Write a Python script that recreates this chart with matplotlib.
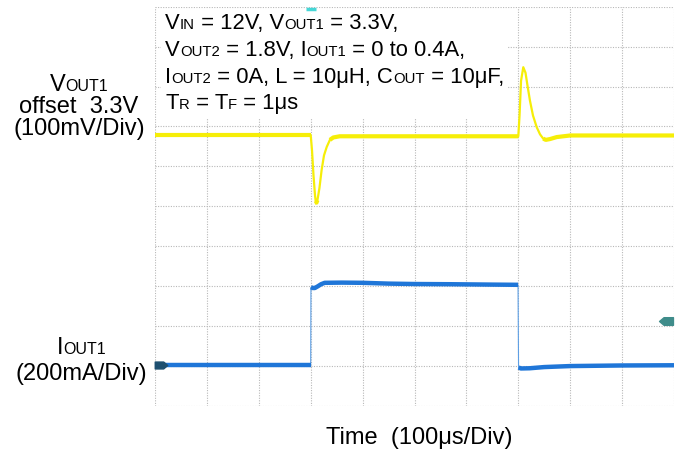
"""
Load transient of VOUT1 (yellow) and IOUT1 (blue) redrawn like the scope capture.
"""
import numpy as np
from matplotlib import pyplot as plt
from matplotlib.path import Path
from matplotlib.offsetbox import TextArea, HPacker, VPacker, AnchoredOffsetbox

plt.rcParams['font.family'] = ['Liberation Sans', 'DejaVu Sans']

# VOUT1, AC part in mV, time in us (100 us/div)
t_vout = [0, 300, 302.5, 305.4, 308.3, 310.2, 313, 316.8, 321, 325.6, 330.8, 337,
          343.5, 356, 450, 550, 650, 700, 702.4, 705.3, 709.6, 713.9, 717.7, 722.5,
          728.3, 735.4, 741.8, 748, 753, 761, 774, 800, 900, 1000]
vout1 = [1, 1, -37, -100, -150, -171, -162, -132, -87, -50, -29, -11,
         -5, -2, -2, -2, -2, -2, 50, 137, 171, 157, 125, 87,
         50, 21, 3, -8, -11, -9, -4, 0, 0, 0]

# IOUT1 in mA
t_iout = [0, 150, 300, 300.5, 304, 308, 314, 320, 327, 360, 400, 450, 500, 568,
          650, 699.5, 700.5, 705, 722, 750, 800, 900, 1000]
iout1 = [0, 0, 0, 390, 386, 386, 395, 405, 412, 413, 412, 408, 406, 405,
         403, 402, -12, -17, -16, -10, -5, -2, -1]

trig_t, trig_i = 985, 220   # trigger level marker on IOUT1
trig_pos_t = 300            # trigger position marker on top edge

V_DIV, I_DIV = 100, 200      # mV/div, mA/div
V_POS, I_POS = 6.775, 1.025  # trace zero, divisions above bottom
N_DIV = 10

YELLOW = '#f6ee08'
BLUE = '#1f76d8'


def steady_pieces(t, y, jump):
    # split trace where it moves fast so the flat parts can be drawn thicker
    t, y = np.asarray(t, float), np.asarray(y, float)
    cut = np.where(np.abs(np.diff(y)) > jump)[0] + 1
    return zip(np.split(t, cut), np.split(y, cut))


def sub_line(parts, big, small):
    boxes = [TextArea(s, textprops=dict(fontsize=small if sub else big, color='black'))
             for s, sub in parts]
    return HPacker(children=boxes, align='baseline', pad=0, sep=0)


def main():
    fig = plt.figure(figsize=(6.81, 4.51), dpi=100)
    ax = fig.add_axes([155 / 681, 1 - 406 / 451, 519 / 681, 399.3 / 451])
    ax2 = ax.twinx()

    ax.set_xlim(0, 1000)
    ax.set_ylim(-V_POS * V_DIV, (N_DIV - V_POS) * V_DIV)
    ax2.set_ylim(-I_POS * I_DIV, (N_DIV - I_POS) * I_DIV)

    ax.set_xticks(np.arange(0, 1001, 100))
    ax.set_yticks((np.arange(N_DIV + 1) - V_POS) * V_DIV)
    ax.grid(True, color='#b8b8b8', linestyle=(0, (1, 1.3)), linewidth=0.8)
    for a in (ax, ax2):
        a.tick_params(length=0, labelbottom=False, labelleft=False, labelright=False)
        for s in a.spines.values():
            s.set_visible(False)
    ax2.patch.set_visible(False)
    ax2.set_yticks([])

    # traces
    ax.plot(t_vout, vout1, color=YELLOW, lw=1.6, solid_capstyle='butt')
    for tt, yy in steady_pieces(t_vout, vout1, 10):
        if len(tt) > 1:
            ax.plot(tt, yy, color=YELLOW, lw=3.0, solid_capstyle='butt')

    ax2.plot(t_iout, iout1, color='#5e9fe4', lw=0.8)
    for tt, yy in steady_pieces(t_iout, iout1, 100):
        if len(tt) > 1:
            ax2.plot(tt, yy, color=BLUE, lw=3.2, solid_capstyle='butt')

    # channel / trigger markers
    tag = Path([(-1, -0.55), (0.35, -0.55), (1, 0), (0.35, 0.55), (-1, 0.55), (-1, -0.55)],
               [1, 2, 2, 2, 2, 79])
    tag_l = Path(-tag.vertices, tag.codes)
    ax2.plot([12], [0], marker=tag, ms=9, color='#1d4f70', clip_on=False, zorder=6)
    ax2.plot([trig_t], [trig_i], marker=tag_l, ms=10, color='#3f8c8a', clip_on=False)
    ax.plot([trig_pos_t], [0.993], transform=ax.get_xaxis_transform(), marker='_', ms=7,
            mew=2.5, color='#45d6d6', clip_on=False, zorder=10)

    # conditions box
    big, small = 15.8, 10.7
    lines = [
        [("V", 0), ("IN", 1), (" = 12V, V", 0), ("OUT1", 1), (" = 3.3V,", 0)],
        [("V", 0), ("OUT2", 1), (" = 1.8V, I", 0), ("OUT1", 1), (" = 0 to 0.4A,", 0)],
        [("I", 0), ("OUT2", 1), (" = 0A, L = 10μH, C", 0), ("OUT", 1), (" = 10μF,", 0)],
        [("T", 0), ("R", 1), (" = T", 0), ("F", 1), (" = 1μs", 0)],
    ]
    pack = VPacker(children=[sub_line(l, big, small) for l in lines],
                   align='left', pad=0, sep=4.2)
    box = AnchoredOffsetbox(loc='upper left', child=pack, pad=0.3, borderpad=0,
                            frameon=True, bbox_to_anchor=(0.012, 0.995),
                            bbox_transform=ax.transAxes)
    box.patch.set_facecolor('white')
    box.patch.set_edgecolor('none')
    box.patch.set_boxstyle('square', pad=0)
    box.set_zorder(5)
    ax.add_artist(box)

    # channel labels on the left
    lab = 17
    v_lab = VPacker(children=[sub_line([("V", 0), ("OUT1", 1)], lab, 11.5),
                              TextArea("offset  3.3V", textprops=dict(fontsize=lab)),
                              TextArea("(100mV/Div)", textprops=dict(fontsize=lab))],
                    align='center', pad=0, sep=0.2)
    fig.add_artist(AnchoredOffsetbox(loc='center', child=v_lab, pad=0, borderpad=0,
                                     frameon=False, bbox_to_anchor=(79 / 681, 1 - 107 / 451),
                                     bbox_transform=fig.transFigure))
    i_lab = VPacker(children=[sub_line([("I", 0), ("OUT1", 1)], lab, 11.5),
                              TextArea("(200mA/Div)", textprops=dict(fontsize=lab))],
                    align='center', pad=0, sep=3.5)
    fig.add_artist(AnchoredOffsetbox(loc='center', child=i_lab, pad=0, borderpad=0,
                                     frameon=False, bbox_to_anchor=(81 / 681, 1 - 361 / 451),
                                     bbox_transform=fig.transFigure))

    fig.text(419 / 681, 1 - 444 / 451, "Time  (100μs/Div)", fontsize=lab,
             ha='center', va='baseline')

    fig.savefig('out.png', dpi=100)


if __name__ == "__main__":
    main()
